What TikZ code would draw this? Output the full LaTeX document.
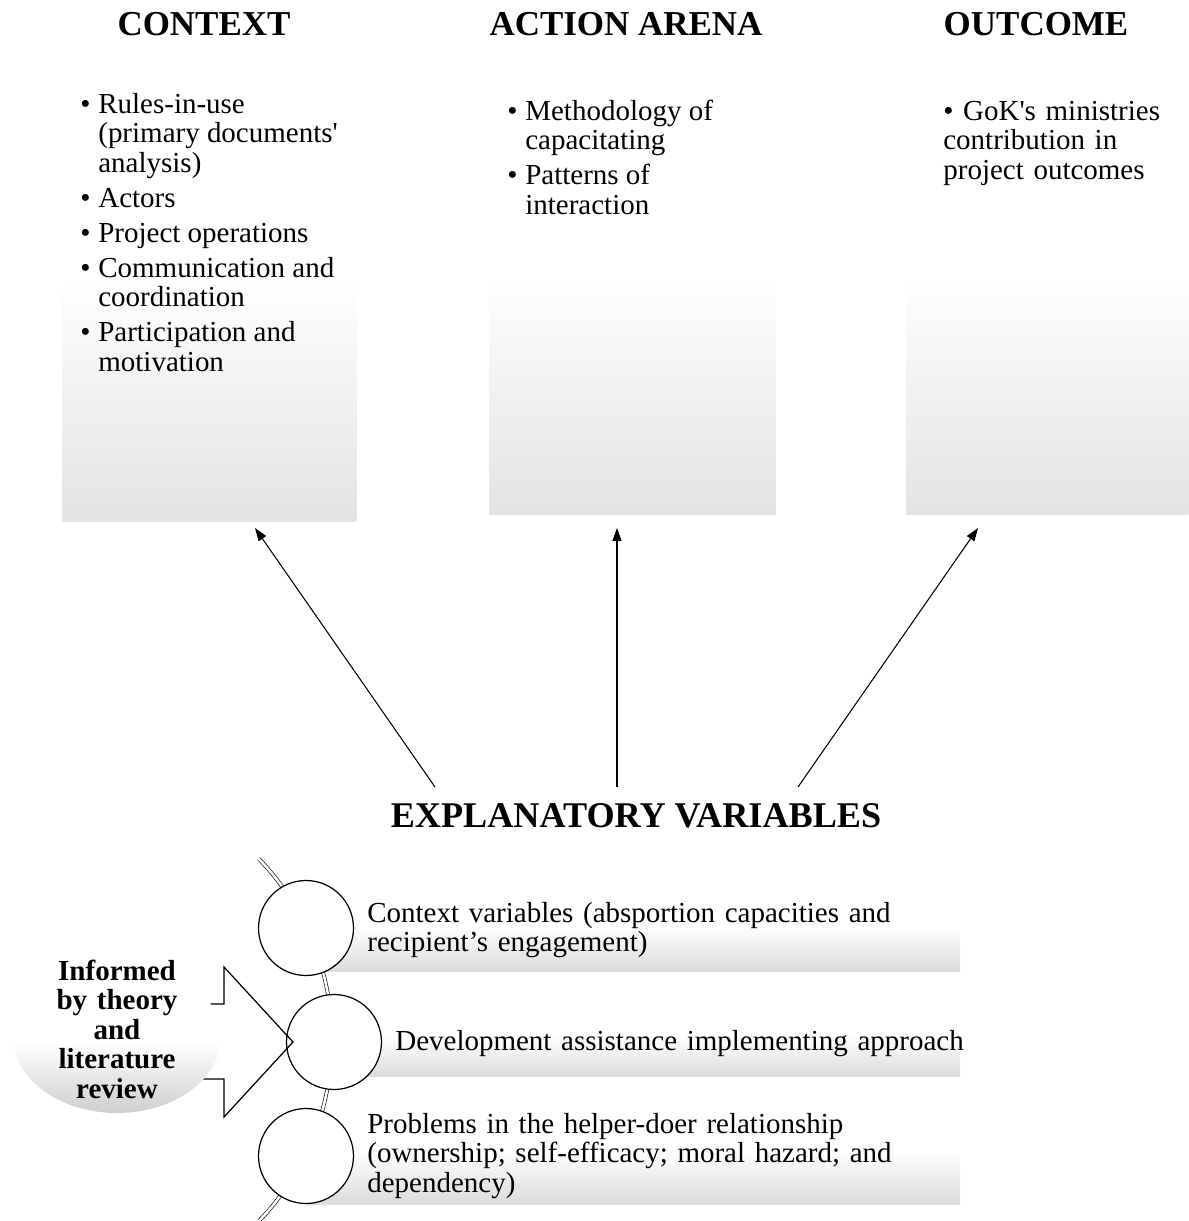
\documentclass[tikz,border=0pt]{standalone}
\usepackage{fontspec}
\setmainfont{Liberation Serif}
\usetikzlibrary{arrows.meta,shapes.geometric}

% soft grey fades, white on top
\pgfdeclareverticalshading{boxfade}{100bp}{color(0bp)=(black!11); color(25bp)=(black!11); color(52bp)=(white); color(100bp)=(white)}
\pgfdeclareverticalshading{barfade}{100bp}{color(0bp)=(black!14); color(25bp)=(black!14); color(50bp)=(white); color(100bp)=(white)}
\pgfdeclareverticalshading{ellfade}{100bp}{color(0bp)=(black!19); color(25bp)=(black!19); color(48bp)=(white); color(100bp)=(white)}

\newcommand{\ap}{\textquotesingle}
\newcommand{\bitem}[1]{\par\hangindent=0.36cm\hangafter=1\noindent\hbox to 0.36cm{\textbullet\hfil}#1}

\begin{document}
\begin{tikzpicture}[
  x=0.02cm, y=-0.02cm,
  heading/.style={font=\fontsize{19.9}{22}\selectfont\bfseries, inner sep=0, anchor=base},
  body/.style={font=\fontsize{16.5}{16.8}\selectfont, inner sep=0, align=left, anchor=base west},
  listbox/.style={font=\fontsize{16.5}{16.8}\selectfont, inner sep=0, anchor=base west},
  panel/.style={rectangle, inner sep=0, shade, shading=boxfade, anchor=south west},
  bar/.style={rectangle, inner sep=0, shade, shading=barfade, anchor=south west},
  vcircle/.style={circle, draw, fill=white, line width=0.7pt, minimum size=1.9cm, inner sep=0},
  arr/.style={-{Triangle[length=0.26cm,width=0.18cm]}, line width=0.6pt}
]
\useasboundingbox (0,0) rectangle (1188,1221);

% top row
\node[panel, minimum width=5.88cm, minimum height=9.04cm] (ctxbox) at (62,522) {};
\node[panel, minimum width=5.72cm, minimum height=8.9cm] (actbox) at (489,515) {};
\node[panel, minimum width=5.64cm, minimum height=8.9cm] (outbox) at (906,515) {};

\node[heading] (ctxhead) at (204,35) {CONTEXT};
\node[heading] (acthead) at (626,35) {ACTION ARENA};
\node[heading] (outhead) at (1036,35) {OUTCOME};

\node[listbox] (ctxlist) at (80,113) {\begin{minipage}[t]{5.5cm}\setlength{\parskip}{0.11cm}%
  \bitem{Rules-in-use\newline (primary documents\ap\newline analysis)}
  \bitem{Actors}
  \bitem{Project operations}
  \bitem{Communication and\newline coordination}
  \bitem{Participation and\newline motivation}\end{minipage}};
\node[listbox] (actlist) at (507,120) {\begin{minipage}[t]{5.2cm}\setlength{\parskip}{0.11cm}%
  \bitem{Methodology of\newline capacitating}
  \bitem{Patterns of\newline interaction}\end{minipage}};
\node[body, text width=4.8cm] (outlist) at (943,120) {\textbullet\ GoK\ap s ministries\\contribution in\\project outcomes};

% explanatory variables
\node[heading, font=\fontsize{20.6}{22}\selectfont\bfseries] (expl) at (636,827) {EXPLANATORY VARIABLES};

\coordinate (explL) at (435,787);
\coordinate (explM) at (617,787);
\coordinate (explR) at (798,787);
\coordinate (ctxin) at (255,528);
\coordinate (actin) at (617,528);
\coordinate (outin) at (978,528);
\draw[arr] (explL) -- (ctxin);
\draw[arr] (explM) -- (actin);
\draw[arr] (explR) -- (outin);

\node[bar, minimum width=13.08cm, minimum height=1.84cm] (bar1) at (306,972) {};
\node[bar, minimum width=12.52cm, minimum height=1.64cm] (bar2) at (334,1077) {};
\node[bar, minimum width=13.08cm, minimum height=2.2cm] (bar3) at (306,1205) {};

\draw[double, double distance=0.05cm, line width=0.35pt] (258.7,858.7) arc[start angle=44, end angle=-44, radius=5.22cm];

\node[vcircle] (vc1) at (306,928) {};
\node[vcircle] (vc2) at (334,1042) {};
\node[vcircle] (vc3) at (306,1156) {};

\node[body, text width=12cm] (var1) at (367,922) {Context variables (absportion capacities and\\recipient's engagement)};
\node[body, text width=12cm] (var2) at (395,1050) {Development assistance implementing approach};
\node[body, text width=12cm] (var3) at (367,1133) {Problems in the helper-doer relationship\\(ownership; self-efficacy; moral hazard; and\\dependency)};

% informed by theory
\draw[line width=0.7pt] (110,1004) -- (224,1004) -- (224,967) -- (293,1042) -- (224,1117) -- (224,1079) -- (110,1079) -- cycle;
\node[ellipse, shade, shading=ellfade, minimum width=4.16cm, minimum height=3.04cm, inner sep=0] (infell) at (117,1037) {};
\node[font=\fontsize{16.5}{16.8}\selectfont\bfseries, text width=4cm, align=center, inner sep=0, anchor=base] (inftxt) at (117,980) {Informed\\by theory\\and\\literature\\review};
\end{tikzpicture}
\end{document}
